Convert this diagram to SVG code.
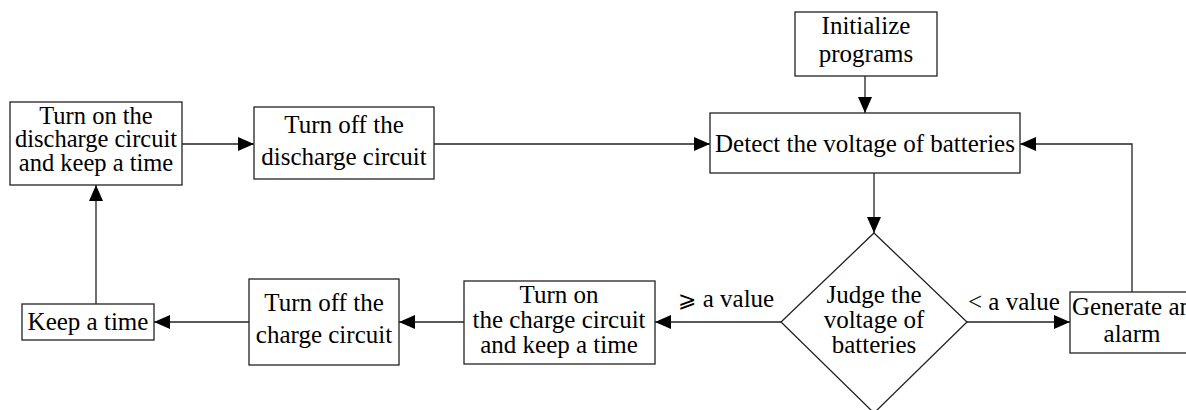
<svg xmlns="http://www.w3.org/2000/svg" width="1186" height="410" viewBox="0 0 1186 410">
  <style>
    .box { fill: #ffffff; stroke: #222222; stroke-width: 1.3; }
    .lbl { font-family: "Liberation Serif", "Times New Roman", serif; font-size: 25px; fill: #000000; text-anchor: middle; }
    .tight { font-size: 24.5px; }
    .edge { fill: none; stroke: #222222; stroke-width: 1.3; }
    .cond { font-family: "Liberation Serif", "Times New Roman", serif; font-size: 25px; fill: #000000; }
  </style>
  <defs>
    <marker id="arrow" viewBox="0 0 16 14" refX="16" refY="7" markerWidth="16" markerHeight="14" markerUnits="userSpaceOnUse" orient="auto">
      <path d="M0,0 L16,7 L0,14 Z" fill="#000000"/>
    </marker>
  </defs>
  <rect width="1186" height="410" fill="#ffffff"/>

  <!-- connectors -->
  <g id="connectors">
    <line class="edge" x1="182" y1="144" x2="254" y2="144" marker-end="url(#arrow)"/>
    <line class="edge" x1="434" y1="144" x2="710" y2="144" marker-end="url(#arrow)"/>
    <line class="edge" x1="865" y1="76" x2="865" y2="113" marker-end="url(#arrow)"/>
    <line class="edge" x1="874" y1="173" x2="874" y2="233" marker-end="url(#arrow)"/>
    <line class="edge" x1="781" y1="322" x2="655" y2="322" marker-end="url(#arrow)"/>
    <line class="edge" x1="464" y1="322" x2="399" y2="322" marker-end="url(#arrow)"/>
    <line class="edge" x1="249" y1="322" x2="154" y2="322" marker-end="url(#arrow)"/>
    <line class="edge" x1="96" y1="304" x2="96" y2="185" marker-end="url(#arrow)"/>
    <line class="edge" x1="967" y1="322" x2="1070" y2="322" marker-end="url(#arrow)"/>
    <polyline class="edge" points="1132,292 1132,144 1020,144" marker-end="url(#arrow)"/>
    <text class="cond" x="678" y="307"><tspan font-family="DejaVu Sans, sans-serif" font-size="22">⩾</tspan> a value</text>
    <text class="cond" x="968" y="310">&lt; a value</text>
  </g>

  <g id="init">
    <rect class="box" x="795" y="12" width="142" height="64"/>
    <text class="lbl" x="866" y="34">Initialize</text>
    <text class="lbl" x="866" y="62">programs</text>
  </g>

  <g id="detect">
    <rect class="box" x="710" y="113" width="310" height="60"/>
    <text class="lbl" x="865" y="152">Detect the voltage of batteries</text>
  </g>

  <g id="discharge-on">
    <rect class="box" x="10" y="102" width="172" height="83"/>
    <text class="lbl tight" x="96" y="124">Turn on the</text>
    <text class="lbl tight" x="96" y="147">discharge circuit</text>
    <text class="lbl tight" x="96" y="171">and keep a time</text>
  </g>

  <g id="discharge-off">
    <rect class="box" x="254" y="107" width="180" height="72"/>
    <text class="lbl" x="344" y="133">Turn off the</text>
    <text class="lbl" x="344" y="165">discharge circuit</text>
  </g>

  <g id="judge">
    <polygon class="box" points="874,233 967,322 874,413 781,322"/>
    <text class="lbl" x="874" y="303">Judge the</text>
    <text class="lbl" x="874" y="328">voltage of</text>
    <text class="lbl" x="874" y="353">batteries</text>
  </g>

  <g id="charge-on">
    <rect class="box" x="464" y="281" width="191" height="83"/>
    <text class="lbl" x="559" y="303">Turn on</text>
    <text class="lbl" x="559" y="328">the charge circuit</text>
    <text class="lbl" x="559" y="353">and keep a time</text>
  </g>

  <g id="charge-off">
    <rect class="box" x="249" y="279" width="150" height="86"/>
    <text class="lbl" x="324" y="311">Turn off the</text>
    <text class="lbl" x="324" y="343">charge circuit</text>
  </g>

  <g id="keep-time">
    <rect class="box" x="22" y="304" width="132" height="36"/>
    <text class="lbl" x="88" y="330">Keep a time</text>
  </g>

  <g id="alarm">
    <rect class="box" x="1070" y="292" width="124" height="61"/>
    <text class="lbl" x="1132" y="315">Generate an</text>
    <text class="lbl" x="1132" y="342">alarm</text>
  </g>
</svg>
